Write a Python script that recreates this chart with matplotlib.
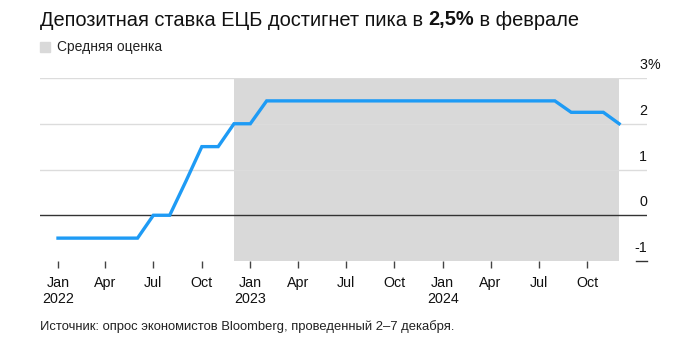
import matplotlib
matplotlib.use("Agg")
import matplotlib.pyplot as plt
import matplotlib.dates as mdates
import matplotlib.transforms as mtransforms
import pandas as pd

plt.rcParams['font.family'] = ['Liberation Sans', 'DejaVu Sans']

# Data
months = pd.date_range('2022-01-01', periods=36, freq='MS')
rate = [-0.5, -0.5, -0.5, -0.5, -0.5, -0.5,
        0.0, 0.0, 0.75, 1.5, 1.5, 2.0,
        2.0, 2.5, 2.5, 2.5, 2.5, 2.5, 2.5, 2.5, 2.5, 2.5, 2.5, 2.5,
        2.5, 2.5, 2.5, 2.5, 2.5, 2.5, 2.5, 2.5, 2.25, 2.25, 2.25, 2.0]
shade_start = pd.Timestamp('2022-12-01')
shade_end = pd.Timestamp('2024-12-01')
y_ticks = [-1, 0, 1, 2, 3]
y_labels = ['-1', '0', '1', '2', '3']
x_ticks = pd.date_range('2022-01-01', periods=12, freq='3MS')
x_labels = ['Jan\n2022', 'Apr', 'Jul', 'Oct', 'Jan\n2023', 'Apr', 'Jul', 'Oct',
            'Jan\n2024', 'Apr', 'Jul', 'Oct']

title_parts = [('Депозитная ставка ЕЦБ достигнет пика в ', 'normal'),
               ('2,5%', 'bold'), (' в феврале', 'normal')]
legend_label = 'Средняя оценка'
source = 'Источник: опрос экономистов Bloomberg, проведенный 2–7 декабря.'

W, H = 690, 354
fig = plt.figure(figsize=(W / 100, H / 100), dpi=100)
ax = fig.add_axes([40 / W, (H - 261) / H, (647 - 40) / W, (261 - 78) / H])

# x limits: Jan 2022 at px 58, ~16.03 px/month
x0 = mdates.date2num(months[0])
x_oct24 = mdates.date2num(x_ticks[-1])
ppd = (587 - 58) / (x_oct24 - x0)
ax.set_xlim(x0 - 18 / ppd, x0 + (647 - 58) / ppd)
ax.set_ylim(-1, 3)

# shaded forecast region
ax.axvspan(shade_start, shade_end, ymin=0, ymax=1, color='#d9d9d9', lw=0, zorder=0)

# gridlines
for y in [1, 2, 3]:
    ax.axhline(y, color='#dcdcdc', lw=1, zorder=1)
ax.axhline(0, color='#333333', lw=1, zorder=2)
ax.plot([636 / W, 647 / W], [(H - 261) / H] * 2, transform=fig.transFigure,
        color='#333333', lw=1, clip_on=False)

ax.plot(months, rate, color='#1e9bf5', lw=2.4, zorder=3, solid_joinstyle='miter')

for s in ax.spines.values():
    s.set_visible(False)
ax.set_yticks([])
ax.set_xticks(x_ticks)
ax.set_xticklabels(x_labels, fontsize=10.3, linespacing=1.2)
ax.tick_params(axis='x', length=5, width=1, color='#444444', pad=6, labelcolor='#111111')
for lbl in ax.get_xticklabels():
    lbl.set_verticalalignment('top')

# right y labels above gridlines
trans = mtransforms.blended_transform_factory(fig.transFigure, ax.transData)
for v, lab in zip(y_ticks, y_labels):
    ax.text(647 / W, v + 0.13, lab, transform=trans, ha='right', va='bottom',
            fontsize=10.3, color='#111111')
ax.text(647 / W, 3 + 0.13, '%', transform=trans, ha='left', va='bottom',
        fontsize=10.3, color='#111111')

# title with bold part
fig.canvas.draw()
renderer = fig.canvas.get_renderer()
xpos = 40 / W
for txt, wt in title_parts:
    t = fig.text(xpos, 1 - 20 / H, txt, fontsize=14.4, fontweight=wt,
                 va='center', ha='left', color='#111111')
    bb = t.get_window_extent(renderer=renderer)
    xpos += bb.width / W

# legend
fig.patches.append(plt.Rectangle((40 / W, 1 - 52 / H), 10 / W, 10 / H,
                                 transform=fig.transFigure, color='#d9d9d9'))
fig.text(57 / W, 1 - 47 / H, legend_label, fontsize=10, va='center', ha='left',
         color='#222222')

fig.text(40 / W, 1 - 327 / H, source, fontsize=9.35, va='center', ha='left',
         color='#222222')

fig.savefig('out.png', dpi=100)
